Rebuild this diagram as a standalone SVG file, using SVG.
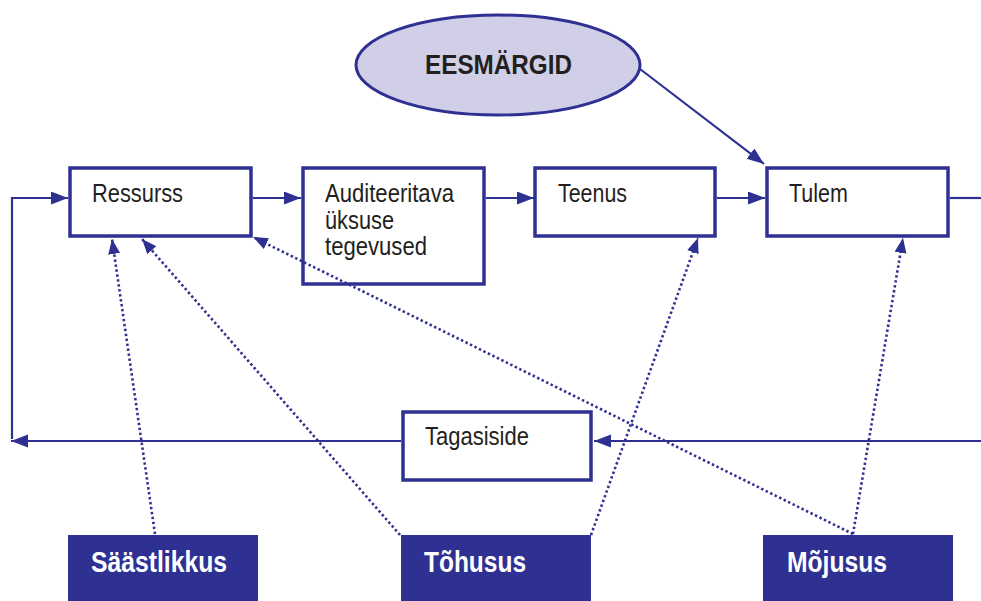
<svg xmlns="http://www.w3.org/2000/svg" width="981" height="601" viewBox="0 0 981 601">
<style>
.box{fill:#fff;stroke:#2E3192;stroke-width:3.5}
.dark{fill:#2E3192;stroke:none}
.txt{font-family:"Liberation Sans",Arial,sans-serif;font-size:25px;fill:#231F20}
.btxt{font-family:"Liberation Sans",Arial,sans-serif;font-size:30px;font-weight:bold;fill:#fff}
.line{fill:none;stroke:#2E3192;stroke-width:2.2}
.dot{fill:none;stroke:#2E3192;stroke-width:2.6;stroke-dasharray:2.4 2.6}
</style>
<defs>
<marker id="ah" markerUnits="userSpaceOnUse" markerWidth="18" markerHeight="14" refX="17" refY="6.5" orient="auto">
<path d="M0,0 L17,6.5 L0,13 z" fill="#2E3192"/>
</marker>
<marker id="ahd" markerUnits="userSpaceOnUse" markerWidth="16" markerHeight="14" refX="15" refY="6" orient="auto">
<path d="M0,0 L15,6 L0,12 z" fill="#2E3192"/>
</marker>
</defs>
<g id="eesmargid">
<ellipse cx="498" cy="65" rx="142" ry="50" fill="#D0CFE7" stroke="#2E3192" stroke-width="3"/>
<text x="425" y="74" textLength="147" lengthAdjust="spacingAndGlyphs" style="font-family:'Liberation Sans',Arial,sans-serif;font-size:27px;font-weight:bold;fill:#231F20">EESMÄRGID</text>
</g>
<g id="ressurss">
<rect class="box" x="70" y="168" width="181" height="68"/>
<text class="txt" x="92" y="202" textLength="91" lengthAdjust="spacingAndGlyphs">Ressurss</text>
</g>
<g id="auditeeritava">
<rect class="box" x="303" y="168" width="181" height="116"/>
<text class="txt" x="325" y="202" textLength="129" lengthAdjust="spacingAndGlyphs">Auditeeritava</text>
<text class="txt" x="325" y="229" textLength="69" lengthAdjust="spacingAndGlyphs">üksuse</text>
<text class="txt" x="325" y="255" textLength="102" lengthAdjust="spacingAndGlyphs">tegevused</text>
</g>
<g id="teenus">
<rect class="box" x="535" y="168" width="180" height="68"/>
<text class="txt" x="558" y="202" textLength="69" lengthAdjust="spacingAndGlyphs">Teenus</text>
</g>
<g id="tulem">
<rect class="box" x="767" y="168" width="181" height="68"/>
<text class="txt" x="789" y="202" textLength="59" lengthAdjust="spacingAndGlyphs">Tulem</text>
</g>
<g id="tagasiside">
<rect class="box" x="403" y="412" width="188" height="68"/>
<text class="txt" x="425" y="445" textLength="104" lengthAdjust="spacingAndGlyphs">Tagasiside</text>
</g>
<g id="saastlikkus">
<rect class="dark" x="68" y="535" width="190" height="66"/>
<text class="btxt" x="91" y="572" textLength="136" lengthAdjust="spacingAndGlyphs">Säästlikkus</text>
</g>
<g id="tohusus">
<rect class="dark" x="401" y="535" width="190" height="66"/>
<text class="btxt" x="424" y="572" textLength="102" lengthAdjust="spacingAndGlyphs">Tõhusus</text>
</g>
<g id="mojusus">
<rect class="dark" x="763" y="535" width="190" height="66"/>
<text class="btxt" x="787" y="572" textLength="100" lengthAdjust="spacingAndGlyphs">Mõjusus</text>
</g>
<g id="connectors">
<line class="line" x1="253" y1="198" x2="301" y2="198" marker-end="url(#ah)"/>
<line class="line" x1="486" y1="198" x2="534" y2="198" marker-end="url(#ah)"/>
<line class="line" x1="717" y1="198" x2="765" y2="198" marker-end="url(#ah)"/>
<line class="line" x1="950" y1="198" x2="981" y2="198"/>
<line class="line" x1="640" y1="69" x2="764" y2="164" marker-end="url(#ah)"/>
<line class="line" x1="981" y1="441" x2="594" y2="441" marker-end="url(#ah)"/>
<line class="line" x1="401" y1="441" x2="11" y2="441" marker-end="url(#ah)"/>
<path class="line" d="M12,439 V198 H68" marker-end="url(#ah)"/>
<line class="dot" x1="155" y1="534" x2="112" y2="239" marker-end="url(#ahd)"/>
<line class="dot" x1="400" y1="535" x2="142" y2="239" marker-end="url(#ahd)"/>
<line class="dot" x1="591" y1="535" x2="698" y2="238" marker-end="url(#ahd)"/>
<line class="dot" x1="853" y1="534" x2="903" y2="238" marker-end="url(#ahd)"/>
<line class="dot" x1="853" y1="534" x2="253" y2="237" marker-end="url(#ahd)"/>
</g>
</svg>
